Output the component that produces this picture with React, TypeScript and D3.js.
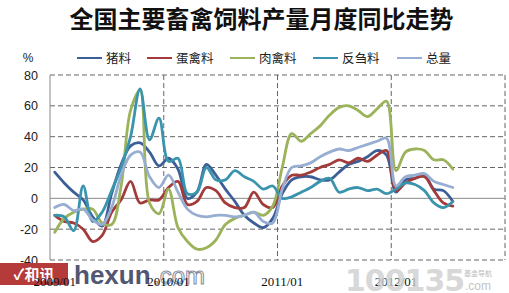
import React from "react";
import * as d3 from "d3";

const W = 509;
const H = 293;

const title = "全国主要畜禽饲料产量月度同比走势";
const seriesNames = ["猪料", "蛋禽料", "肉禽料", "反刍料", "总量"];
const seriesColors = ["#3d5f97", "#a33b3b", "#9bb35a", "#3a94ad", "#97aed2"];

// 48 monthly categories 2009/01 .. 2012/12
const months: string[] = [];
for (let y = 2009; y <= 2012; y++) for (let m = 1; m <= 12; m++) months.push(`${y}/${String(m).padStart(2, "0")}`);
const xTickLabels = ["2009/01", "2010/01", "2011/01", "2012/01"];
const yTicks = [-40, -20, 0, 20, 40, 60, 80];

// values from 2009/01 to 2012/07
const pig = [17, 10, 4, -1, -12, -18, 3, 22, 34, 36, 30, 21, 26, 19, 0, 4, 22, 15, 6, -2, -11, -16, -19, -13, 3, 12, 14, 14, 12, 12, 17, 22, 24, 27, 31, 28, 4, 12, 13, 15, 6, 5, -2];
const egg = [-11, -15, -16, -20, -28, -24, -9, -1, 11, -3, -1, -1, 7, 11, -4, -2, 7, 5, -3, -6, -6, 4, -4, -6, 8, 15, 15, 17, 20, 22, 25, 23, 26, 24, 28, 31, 5, 10, 13, 14, 5, -3, -5];
const broiler = [-22, -13, -9, -7, -7, -16, -17, 8, 57, 70, -3, -10, 6, -19, -28, -33, -32, -27, -17, -13, -11, -9, -11, -5, 20, 42, 37, 42, 47, 54, 59, 60, 57, 53, 58, 63, 18, 30, 32, 31, 25, 25, 19];
const rumin = [-11, -12, -21, 8, -15, -9, 5, 20, 40, 71, 38, 52, 24, 26, 3, 4, 20, 12, 12, 18, 14, 11, 6, 8, 0, 1, 4, 7, 11, 13, 4, 6, 7, 5, 6, 3, 6, 10, 9, 5, -3, -6, -2];
const total = [-6, -4, -8, -7, -14, -17, -6, 15, 28, 30, 14, 7, 15, 4, -7, -11, -12, -11, -11, -12, -11, -9, -15, -16, 6, 20, 21, 23, 27, 30, 32, 31, 33, 35, 37, 39, 8, 14, 15, 16, 11, 9, 7];
const seriesData = [pig, egg, broiler, rumin, total];

export default function App() {
  const left = 50, right = 505, top = 75, bottom = 260;
  const x = d3.scaleBand<string>().domain(months).range([left, right]).padding(0);
  const bw = x.bandwidth();
  const y = d3.scaleLinear().domain([-40, 80]).range([bottom, top]);
  const cx = (i: number) => (x(months[i]) as number) + bw / 2;
  const line = d3
    .line<number>()
    .x((_, i) => cx(i))
    .y((d) => y(d))
    .curve(d3.curveCatmullRom.alpha(0.5));

  const legendX = [77, 147, 230, 313, 397];

  return (
    <svg
      width={W}
      height={H}
      style={{ position: "absolute", left: 0, top: 0, background: "#fff" }}
      fontFamily="'Liberation Sans', Arial, sans-serif"
    >
      <rect x={0} y={0} width={W} height={H} fill="#fff" />
      <text
        x={261.5}
        y={28}
        textAnchor="middle"
        fontSize={24}
        fontWeight="bold"
        fontFamily="'Noto Sans CJK SC', sans-serif"
        fill="#111"
      >
        {title}
      </text>

      {/* legend */}
      <text x={28} y={62} fontSize={12} fill="#222" textAnchor="middle">%</text>
      {seriesNames.map((n, i) => (
        <g key={n}>
          <line x1={legendX[i]} x2={legendX[i] + 25} y1={58} y2={58} stroke={seriesColors[i]} strokeWidth={2} />
          <text
            x={legendX[i] + 29}
            y={62.5}
            fontSize={12.5}
            fill="#222"
            fontFamily="'Noto Sans CJK SC', sans-serif"
          >
            {n}
          </text>
        </g>
      ))}

      {/* horizontal grid */}
      {yTicks.map((t) =>
        t === 0 ? null : (
          <line key={t} x1={left} x2={right} y1={y(t)} y2={y(t)} stroke="#666" strokeWidth={1} strokeDasharray="5,3" />
        )
      )}
      {/* vertical grid at each year + right border */}
      {[12, 24, 36].map((i) => (
        <line key={i} x1={x(months[i])} x2={x(months[i])} y1={top} y2={bottom} stroke="#666" strokeDasharray="5,3" />
      ))}
      <line x1={right} x2={right} y1={top} y2={bottom} stroke="#666" strokeDasharray="5,3" />
      {/* y axis & zero line */}
      <line x1={left} x2={left} y1={top} y2={bottom} stroke="#888" strokeWidth={1} />
      <line x1={left} x2={right} y1={y(0)} y2={y(0)} stroke="#888" strokeWidth={1} />

      {/* y tick labels */}
      {yTicks.map((t) => (
        <text key={t} x={38} y={y(t) + 4.5} fontSize={12.5} textAnchor="end" fill="#222">
          {t}
        </text>
      ))}

      {/* series */}
      {seriesData.map((s, i) => (
        <path key={i} d={line(s) || ""} fill="none" stroke={seriesColors[i]} strokeWidth={2.8} strokeLinejoin="round" strokeLinecap="round" />
      ))}

      {/* watermarks */}
      <rect x={0} y={263} width={68} height={22} fill="#b53a3a" />
      <text x={34} y={280} textAnchor="middle" fontSize={15} fontWeight="bold" fill="#fff" fontFamily="'Noto Sans CJK SC', sans-serif">
        ✓和讯
      </text>
      <text x={74} y={284} fontSize={26} fontWeight="bold" fill="#3f4463" opacity={0.9}>
        hexun
      </text>
      <text x={153} y={284} fontSize={24} fill="none" stroke="#6a6e85" strokeWidth={1} opacity={0.8}>
        .com
      </text>

      {/* x tick labels */}
      {xTickLabels.map((l) => (
        <text key={l} x={cx(months.indexOf(l))} y={286} textAnchor="middle" fontSize={13} fill="#111" fontFamily="'Liberation Serif', 'Times New Roman', serif">
          {l}
        </text>
      ))}

      <text x={345} y={291} fontSize={30} fontWeight="bold" fill="#cfcfcf" opacity={0.8} fontFamily="'DejaVu Sans', sans-serif" letterSpacing={-1}>
        100135
      </text>
      <text x={478} y={276} fontSize={7} fill="#bbb" textAnchor="middle" fontFamily="'Noto Sans CJK SC', sans-serif">基金导航</text>
      <text x={478} y={290} fontSize={12} fill="#c4c4c4" textAnchor="middle">.com</text>
    </svg>
  );
}
